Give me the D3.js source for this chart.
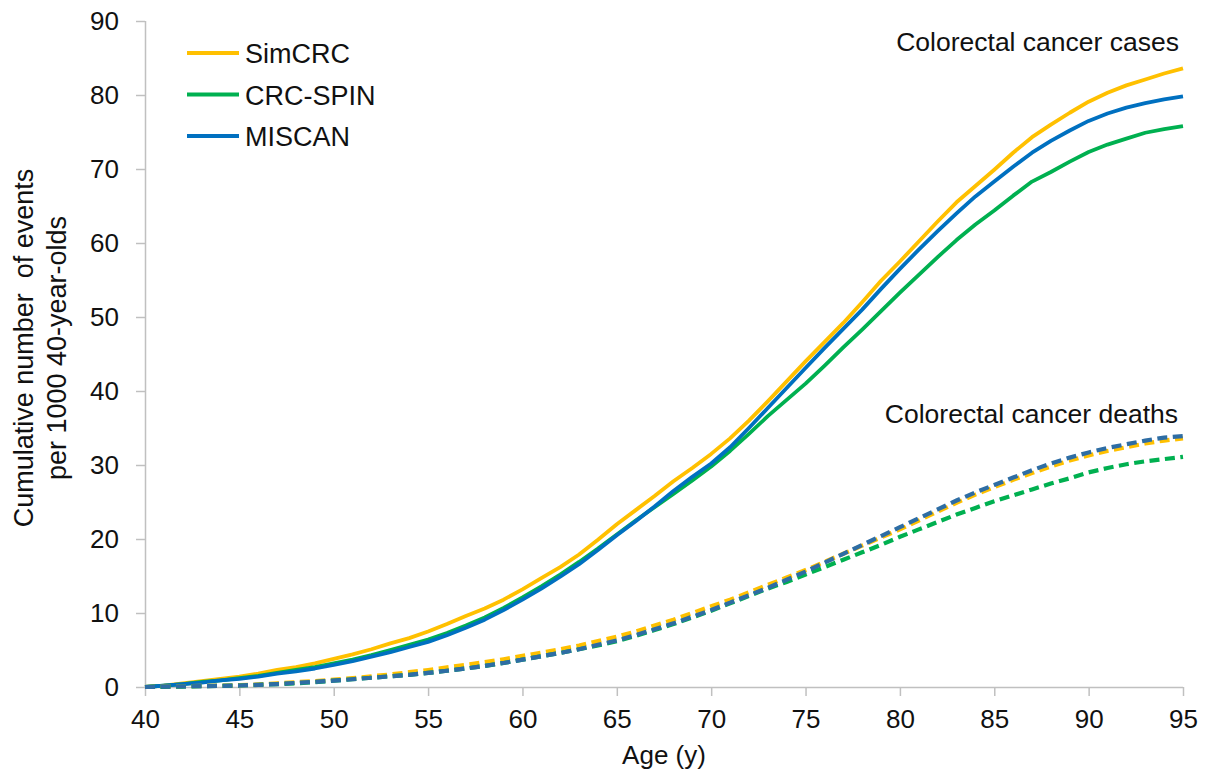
<!DOCTYPE html>
<html>
<head>
<meta charset="utf-8">
<script src="https://cdn.jsdelivr.net/npm/d3@7/dist/d3.min.js"></script>
<style>
  body { margin: 0; background: #fff; }
  svg { display: block; font-family: "Liberation Sans", Arial, sans-serif; }
</style>
</head>
<body>
<svg id="chart" width="1220" height="777"></svg>
<script>
// Data
const ages = d3.range(40, 96);
const xTicks = [40, 45, 50, 55, 60, 65, 70, 75, 80, 85, 90, 95];
const yTicks = [0, 10, 20, 30, 40, 50, 60, 70, 80, 90];

const models = ['SimCRC', 'CRC-SPIN', 'MISCAN'];
const colors = ['#FFC000', '#00B050', '#0070C0'];
const deathColors = ['#FFC000', '#00B050', '#2E6DA4'];

const casesSimCRC = [0.0, 0.2, 0.5, 0.8, 1.1, 1.4, 1.8, 2.3, 2.7, 3.2, 3.8, 4.4, 5.1, 5.9, 6.6, 7.5,
  8.5, 9.6, 10.6, 11.8, 13.2, 14.7, 16.2, 17.9, 19.9, 22.0, 23.9, 25.8, 27.8, 29.6, 31.5,
  33.6, 36.0, 38.6, 41.3, 44.0, 46.6, 49.2, 52.0, 54.9, 57.5, 60.2, 62.9, 65.5, 67.7, 69.9,
  72.2, 74.3, 76.0, 77.6, 79.1, 80.3, 81.3, 82.1, 82.9, 83.6];
const casesCRCSPIN = [0.0, 0.2, 0.4, 0.7, 0.9, 1.2, 1.5, 1.9, 2.3, 2.7, 3.2, 3.7, 4.3, 5.0, 5.7, 6.4,
  7.3, 8.3, 9.4, 10.7, 12.1, 13.6, 15.2, 16.9, 18.7, 20.6, 22.5, 24.3, 26.1, 27.9, 29.8,
  31.9, 34.2, 36.6, 38.8, 41.0, 43.4, 45.9, 48.3, 50.8, 53.3, 55.7, 58.1, 60.4, 62.5, 64.4,
  66.4, 68.3, 69.6, 71.0, 72.3, 73.3, 74.1, 74.9, 75.4, 75.8];
const casesMISCAN = [0.0, 0.2, 0.4, 0.6, 0.9, 1.1, 1.4, 1.8, 2.1, 2.5, 3.0, 3.5, 4.1, 4.7, 5.4, 6.1,
  7.0, 8.0, 9.1, 10.4, 11.8, 13.3, 14.9, 16.6, 18.5, 20.5, 22.4, 24.4, 26.5, 28.4, 30.2,
  32.4, 35.0, 37.7, 40.4, 43.1, 45.8, 48.4, 51.0, 53.8, 56.5, 59.1, 61.6, 64.0, 66.3, 68.3,
  70.3, 72.2, 73.8, 75.2, 76.5, 77.5, 78.3, 78.9, 79.4, 79.8];

const deathsSimCRC = [0.0, 0.05, 0.1, 0.15, 0.2, 0.25, 0.35, 0.5, 0.65, 0.8, 1.0, 1.2, 1.45, 1.7, 2.0, 2.3,
  2.65, 3.0, 3.35, 3.75, 4.2, 4.65, 5.1, 5.6, 6.2, 6.8, 7.5, 8.3, 9.1, 10.0, 10.9,
  11.8, 12.8, 13.8, 14.8, 15.8, 16.9, 18.0, 19.1, 20.2, 21.3, 22.5, 23.7, 24.9, 26.0, 27.0,
  28.0, 28.9, 29.8, 30.6, 31.3, 31.9, 32.4, 32.9, 33.3, 33.6];
const deathsCRCSPIN = [0.0, 0.03, 0.06, 0.1, 0.15, 0.2, 0.28, 0.38, 0.5, 0.65, 0.85, 1.05, 1.25, 1.45, 1.65, 1.9,
  2.2, 2.5, 2.85, 3.25, 3.7, 4.15, 4.6, 5.1, 5.6, 6.2, 6.9, 7.7, 8.5, 9.4, 10.3,
  11.3, 12.3, 13.3, 14.2, 15.2, 16.2, 17.2, 18.2, 19.2, 20.3, 21.3, 22.3, 23.3, 24.2, 25.1,
  25.9, 26.7, 27.5, 28.2, 29.0, 29.6, 30.1, 30.5, 30.8, 31.1];
const deathsMISCAN = [0.0, 0.05, 0.08, 0.12, 0.16, 0.2, 0.3, 0.4, 0.55, 0.7, 0.85, 1.05, 1.25, 1.45, 1.65, 1.9,
  2.2, 2.5, 2.85, 3.25, 3.7, 4.15, 4.6, 5.1, 5.7, 6.3, 7.0, 7.8, 8.6, 9.5, 10.4,
  11.4, 12.4, 13.4, 14.5, 15.6, 16.8, 18.0, 19.2, 20.4, 21.6, 22.8, 24.0, 25.2, 26.3, 27.3,
  28.3, 29.3, 30.2, 31.0, 31.7, 32.3, 32.8, 33.3, 33.7, 33.9];

const cases = [casesSimCRC, casesCRCSPIN, casesMISCAN];
const deaths = [deathsSimCRC, deathsCRCSPIN, deathsMISCAN];

// Layout
const margin = { left: 145, right: 37, top: 21, bottom: 90 };
const W = 1220, H = 777;
const svg = d3.select('#chart');

const x = d3.scaleLinear().domain([40, 95]).range([margin.left, W - margin.right]);
const y = d3.scaleLinear().domain([0, 90]).range([H - margin.bottom, margin.top]);

const axisColor = '#c0c0c0';

// Y axis
const yAxis = svg.append('g')
  .attr('transform', `translate(${margin.left},0)`)
  .call(d3.axisLeft(y).tickValues(yTicks).tickSize(9).tickPadding(17));
// X axis
const xAxis = svg.append('g')
  .attr('transform', `translate(0,${y(0)})`)
  .call(d3.axisBottom(x).tickValues(xTicks).tickSize(9).tickPadding(14));

[yAxis, xAxis].forEach(a => {
  a.select('.domain').attr('stroke', axisColor).attr('stroke-width', 1.5);
  a.selectAll('.tick line').attr('stroke', axisColor).attr('stroke-width', 1.5);
  a.selectAll('.tick text')
    .attr('fill', '#111')
    .style('font-size', '26px')
    .style('font-family', '"Liberation Sans", Arial, sans-serif');
});
// no end caps on the domain paths
xAxis.select('.domain').attr('d', `M${x(40)},0.5H${x(95)}`);
yAxis.select('.domain').attr('d', `M0.5,${y(90)}V${y(0)}`);
xAxis.selectAll('.tick text').attr('dy', '0.71em');

// Lines
const line = d3.line()
  .x((d, i) => x(ages[i]))
  .y(d => y(d));

const plot = svg.append('g');

cases.forEach((s, i) => {
  plot.append('path')
    .datum(s)
    .attr('fill', 'none')
    .attr('stroke', colors[i])
    .attr('stroke-width', 3.8)
    .attr('stroke-linejoin', 'round')
    .attr('d', line);
});

deaths.forEach((s, i) => {
  plot.append('path')
    .datum(s)
    .attr('fill', 'none')
    .attr('stroke', deathColors[i])
    .attr('stroke-width', 4.2)
    .attr('stroke-dasharray', '10,5.5')
    .attr('d', line);
});

// Legend
const legend = svg.append('g');
models.forEach((m, i) => {
  const ly = 53 + i * 41.5;
  legend.append('line')
    .attr('x1', 187).attr('x2', 239)
    .attr('y1', ly).attr('y2', ly)
    .attr('stroke', colors[i])
    .attr('stroke-width', 3.8);
  legend.append('text')
    .attr('x', 245).attr('y', ly + 10)
    .style('font-size', '27px')
    .attr('fill', '#111')
    .text(m);
});

// Annotations
svg.append('text')
  .attr('x', 1179).attr('y', 51)
  .attr('text-anchor', 'end')
  .style('font-size', '26.5px')
  .attr('fill', '#111')
  .text('Colorectal cancer cases');

svg.append('text')
  .attr('x', 1178).attr('y', 423)
  .attr('text-anchor', 'end')
  .style('font-size', '26.5px')
  .attr('fill', '#111')
  .text('Colorectal cancer deaths');

// Axis titles
const yTitle = svg.append('text')
  .attr('transform', 'translate(0,348) rotate(-90)')
  .attr('text-anchor', 'middle')
  .style('font-size', '27px')
  .attr('fill', '#111');
yTitle.append('tspan').attr('x', 0).attr('y', 33).text('Cumulative number\u00a0 of events');
yTitle.append('tspan').attr('x', 0).attr('y', 66).text('per 1000 40-year-olds');

svg.append('text')
  .attr('x', (x(40) + x(95)) / 2).attr('y', 764)
  .attr('text-anchor', 'middle')
  .style('font-size', '26px')
  .attr('fill', '#111')
  .text('Age (y)');
</script>
</body>
</html>
